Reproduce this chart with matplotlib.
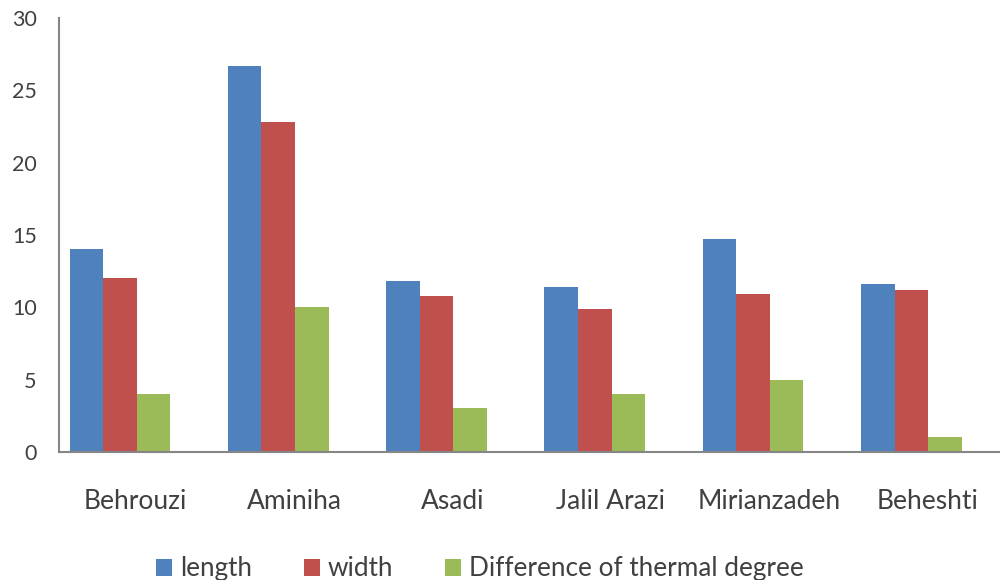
import matplotlib.pyplot as plt
import numpy as np

# data
names = ['Behrouzi', 'Aminiha', 'Asadi', 'Jalil Arazi', 'Mirianzadeh', 'Beheshti']
length = [14.0, 26.7, 11.8, 11.4, 14.7, 11.6]
width = [12.0, 22.8, 10.8, 9.9, 10.9, 11.2]
thermal = [4, 10, 3, 4, 5, 1]
series_names = ['length', 'width', 'Difference of thermal degree']

plt.rcParams['font.family'] = ['Lato', 'DejaVu Sans']
txt = '#404040'

fig = plt.figure(figsize=(10, 5.8), dpi=100)
ax = fig.add_axes([0.059, 0.221, 0.941, 0.748])

x = np.arange(len(names))
w = 0.212
cols = ['#4F81BD', '#C0504D', '#9BBB59']
for i, (vals, c, lab) in enumerate(zip([length, width, thermal], cols, series_names)):
    ax.bar(x + (i - 1) * w, vals, w, color=c, label=lab)

ax.set_ylim(0, 30)
ax.set_yticks(range(0, 31, 5))
ax.set_xlim(-0.385, 5.56)
# labels sit a little right of the bar groups in the original
ax.set_xticks(x + 0.1)
ax.set_xticklabels(names)
ax.tick_params(axis='both', length=0, colors=txt)
ax.tick_params(axis='y', pad=16, labelsize=15.5)
ax.tick_params(axis='x', pad=27, labelsize=19)

for s in ['top', 'right']:
    ax.spines[s].set_visible(False)
for s in ['left', 'bottom']:
    ax.spines[s].set_color('#868686')
    ax.spines[s].set_linewidth(1.5)

fig.legend(loc='center', bbox_to_anchor=(0.48, 0.019), ncol=3, frameon=False,
           fontsize=18.8, handlelength=0.6, handleheight=0.6, handletextpad=0.3,
           columnspacing=2.0, labelcolor=txt)

fig.savefig('out.png', dpi=100)
